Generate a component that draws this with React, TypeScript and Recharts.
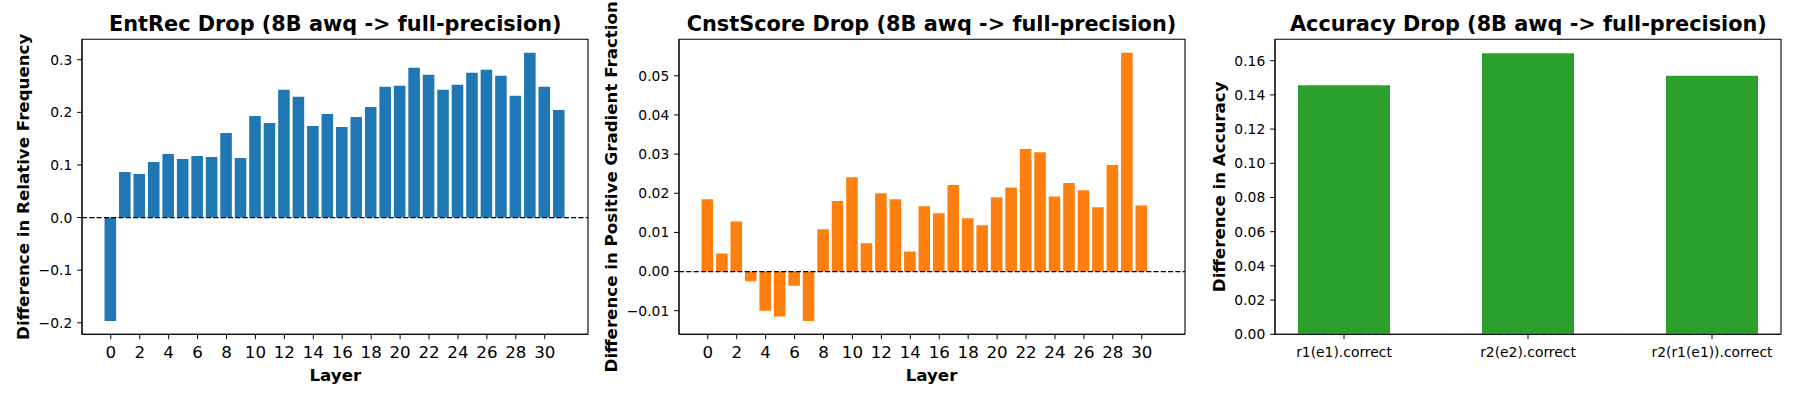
import React from 'react';
import { BarChart, Bar, XAxis, YAxis, ReferenceLine, ReferenceArea } from 'recharts';

const layers = [0, 1, 2, 3, 4, 5, 6, 7, 8, 9, 10, 11, 12, 13, 14, 15, 16, 17, 18, 19, 20, 21, 22, 23, 24, 25, 26, 27, 28, 29, 30, 31];
const entrecDrop = [-0.1964, 0.0865, 0.0826, 0.1055, 0.1208, 0.1113, 0.117, 0.1151, 0.1608, 0.1132, 0.1933, 0.1799, 0.2428, 0.2295, 0.1742, 0.1971, 0.1723, 0.1914, 0.2104, 0.2486, 0.2505, 0.2848, 0.2715, 0.2428, 0.2524, 0.2753, 0.281, 0.2695, 0.2314, 0.3134, 0.2486, 0.2047];

const cnstLayers = [0, 1, 2, 3, 4, 5, 6, 7, 8, 9, 10, 11, 12, 13, 14, 15, 16, 17, 18, 19, 20, 21, 22, 23, 24, 25, 26, 27, 28, 29, 30];
const cnstDrop = [0.0185, 0.0046, 0.0128, -0.0025, -0.01, -0.0115, -0.0036, -0.0126, 0.0108, 0.018, 0.0241, 0.0072, 0.02, 0.0185, 0.0051, 0.0167, 0.0149, 0.0221, 0.0136, 0.0118, 0.019, 0.0215, 0.0313, 0.0305, 0.0192, 0.0226, 0.0208, 0.0164, 0.0272, 0.0559, 0.0169];

const accuracyCategories = ['r1(e1).correct', 'r2(e2).correct', 'r2(r1(e1)).correct'];
const accuracyDrop = [0.1456, 0.1643, 0.1512];

const layerTicks = [0, 2, 4, 6, 8, 10, 12, 14, 16, 18, 20, 22, 24, 26, 28, 30];
const entrecTicks = [-0.2, -0.1, 0, 0.1, 0.2, 0.3];
const cnstTicks = [-0.01, 0, 0.01, 0.02, 0.03, 0.04, 0.05];
const accTicks = [0, 0.02, 0.04, 0.06, 0.08, 0.1, 0.12, 0.14, 0.16];

const titles = [
  'EntRec Drop (8B awq -> full-precision)',
  'CnstScore Drop (8B awq -> full-precision)',
  'Accuracy Drop (8B awq -> full-precision)',
];
const yLabels = ['Difference in Relative Frequency', 'Difference in Positive Gradient Fraction', 'Difference in Accuracy'];
const xLabels = ['Layer', 'Layer', ''];

const FONT = '"DejaVu Sans", Verdana, sans-serif';
const PLOT_TOP = 39.3;
const PLOT_BOTTOM = 334.3;
const PLOT_W = 506;
const PANEL_LEFTS = [82.3, 678.5, 1275.4];
const YAXIS_W = 80;
const XAXIS_H = 30;
const TICK_FS = 13.89;

const fmtMinus = (v: number, d: number) => {
  const s = Math.abs(v) < 1e-12 ? (0).toFixed(d) : v.toFixed(d);
  return s.replace('-', '\u2212');
};

function mplDomain(values: number[]): [number, number] {
  const lo = Math.min(0, ...values);
  const hi = Math.max(0, ...values);
  const span = hi - lo;
  const lower = lo < 0 ? lo - 0.05 * span : 0;
  const upper = hi > 0 ? hi + 0.05 * span : 0;
  return [lower, upper];
}

type PanelProps = {
  left: number;
  data: { x: number; y: number }[];
  color: string;
  xDomain: [number, number];
  xTicks: number[];
  xFmt: (v: number) => string;
  xTickFs: number;
  xTickMargin: number;
  yDomain: [number, number];
  yTicks: number[];
  yFmt: (v: number) => string;
  widthFrac: number;
  zeroColor: string;
};

function Panel(p: PanelProps) {
  const marginRight = 10;
  const width = YAXIS_W + PLOT_W + marginRight;
  const barSize = (PLOT_W / (p.xDomain[1] - p.xDomain[0])) * p.widthFrac;
  const yTick = { fill: '#000', fontSize: TICK_FS, fontFamily: FONT };
  const xTick = { fill: '#000', fontSize: p.xTickFs, fontFamily: FONT };
  return (
    <div style={{ position: 'absolute', left: p.left - YAXIS_W, top: 0 }}>
      <BarChart
        width={width}
        height={400}
        data={p.data}
        margin={{ top: PLOT_TOP, right: marginRight, bottom: 400 - PLOT_BOTTOM - XAXIS_H, left: 0 }}
      >
        <XAxis
          dataKey="x"
          type="number"
          domain={p.xDomain}
          ticks={p.xTicks}
          interval={0}
          allowDataOverflow
          height={XAXIS_H}
          tickSize={4.86}
          tickMargin={p.xTickMargin}
          tick={xTick}
          tickFormatter={p.xFmt}
          stroke="#000"
          tickLine={{ stroke: '#000' }}
        />
        <YAxis
          type="number"
          domain={p.yDomain}
          ticks={p.yTicks}
          interval={0}
          allowDataOverflow
          width={YAXIS_W}
          tickSize={4.86}
          tickMargin={4.86}
          tick={yTick}
          tickFormatter={p.yFmt}
          stroke="#000"
          tickLine={{ stroke: '#000' }}
        />
        <Bar dataKey="y" fill={p.color} barSize={barSize} isAnimationActive={false} />
        <ReferenceLine y={0} stroke={p.zeroColor} strokeWidth={1.2} strokeDasharray="5.1 2.2" ifOverflow="visible" />
        <ReferenceArea
          x1={p.xDomain[0]}
          x2={p.xDomain[1]}
          y1={p.yDomain[0]}
          y2={p.yDomain[1]}
          fill="none"
          fillOpacity={0}
          stroke="#000"
          strokeWidth={1.1}
          ifOverflow="visible"
        />
      </BarChart>
    </div>
  );
}

export default function App() {
  const entrecData = layers.map((l, i) => ({ x: l, y: entrecDrop[i] }));
  const cnstData = cnstLayers.map((l, i) => ({ x: l, y: cnstDrop[i] }));
  const accData = accuracyCategories.map((_, i) => ({ x: i, y: accuracyDrop[i] }));
  const layerDomain: [number, number] = [-1.99, 32.99];
  const accDomainX: [number, number] = [-0.375, 2.375];

  const yLabelX = [29.4, 616.7, 1225.3];
  const midY = (PLOT_TOP + PLOT_BOTTOM) / 2;

  return (
    <div style={{ position: 'absolute', left: 0, top: 0, width: 1800, height: 400, background: '#fff' }}>
      <Panel
        left={PANEL_LEFTS[0]}
        data={entrecData}
        color="#1f77b4"
        xDomain={layerDomain}
        xTicks={layerTicks}
        xFmt={(v) => String(v)}
        xTickFs={16.67}
        xTickMargin={7.5}
        yDomain={mplDomain(entrecDrop)}
        yTicks={entrecTicks}
        yFmt={(v) => fmtMinus(v, 1)}
        widthFrac={0.8}
        zeroColor="#000"
      />
      <Panel
        left={PANEL_LEFTS[1]}
        data={cnstData}
        color="#ff7f0e"
        xDomain={layerDomain}
        xTicks={layerTicks}
        xFmt={(v) => String(v)}
        xTickFs={16.67}
        xTickMargin={7.5}
        yDomain={mplDomain(cnstDrop)}
        yTicks={cnstTicks}
        yFmt={(v) => fmtMinus(v, 2)}
        widthFrac={0.8}
        zeroColor="#000"
      />
      <Panel
        left={PANEL_LEFTS[2]}
        data={accData}
        color="#2ca02c"
        xDomain={accDomainX}
        xTicks={[0, 1, 2]}
        xFmt={(v) => accuracyCategories[v] ?? ''}
        xTickFs={TICK_FS}
        xTickMargin={8}
        yDomain={mplDomain(accuracyDrop)}
        yTicks={accTicks}
        yFmt={(v) => fmtMinus(v, 2)}
        widthFrac={0.5}
        zeroColor="#999"
      />
      <svg
        width={1800}
        height={400}
        style={{ position: 'absolute', left: 0, top: 0, pointerEvents: 'none' }}
        fontFamily={FONT}
      >
        {titles.map((t, i) => (
          <text key={'t' + i} x={PANEL_LEFTS[i] + PLOT_W / 2} y={31} textAnchor="middle" fontSize={20.83} fontWeight="bold" fill="#000">
            {t}
          </text>
        ))}
        {xLabels.map((t, i) =>
          t ? (
            <text key={'x' + i} x={PANEL_LEFTS[i] + PLOT_W / 2} y={381} textAnchor="middle" fontSize={16.67} fontWeight="bold" fill="#000">
              {t}
            </text>
          ) : null
        )}
        {yLabels.map((t, i) => (
          <text
            key={'y' + i}
            x={yLabelX[i]}
            y={midY}
            transform={`rotate(-90 ${yLabelX[i]} ${midY})`}
            textAnchor="middle"
            fontSize={16.67}
            fontWeight="bold"
            fill="#000"
          >
            {t}
          </text>
        ))}
      </svg>
    </div>
  );
}
